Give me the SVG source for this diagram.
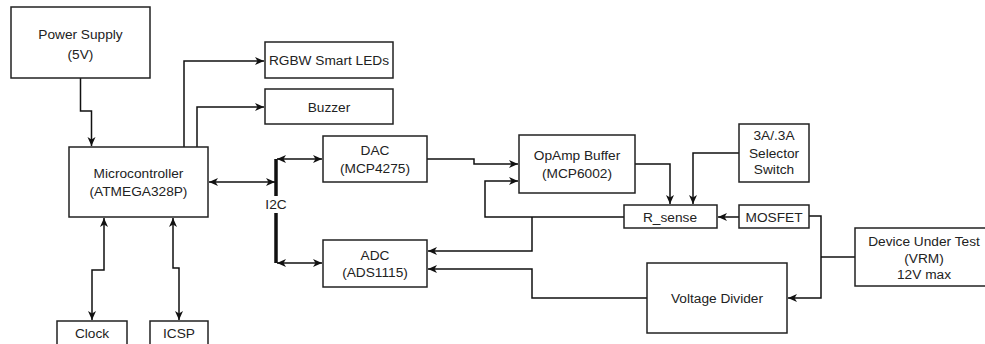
<svg xmlns="http://www.w3.org/2000/svg" width="985" height="344" viewBox="0 0 985 344">
<style>
.box{fill:#fff;stroke:#222;stroke-width:1.5}
.t{font-family:"Liberation Sans",Arial,sans-serif;font-size:13.7px;fill:#222;text-anchor:middle}
.c{fill:none;stroke:#111;stroke-width:1.5}
.e{marker-end:url(#ah)}
.b{marker-end:url(#ah);marker-start:url(#ah)}
</style>
<defs>
<marker id="ah" markerUnits="userSpaceOnUse" markerWidth="10" markerHeight="9" refX="9" refY="4.5" orient="auto-start-reverse">
<path d="M0,0.5 L9,4.5 L0,8.5 L2.5,4.5 z" fill="#111"/>
</marker>
</defs>
<rect width="985" height="344" fill="#fff"/>
<g id="connectors">
<path class="c e" d="M80.5,78 V111 H91.5 V146"/>
<path class="c e" d="M184,147 V61 H264"/>
<path class="c e" d="M197,147 V107 H264"/>
<path class="c b" d="M209,182 H275"/>
<path d="M276,159 V263" fill="none" stroke="#111" stroke-width="3.5"/>
<path class="c b" d="M277,159 H322"/>
<path class="c b" d="M277,263 H322"/>
<path class="c b" d="M104,218 V270 H92 V320"/>
<path class="c b" d="M173,218 V268 H179 V320"/>
<path class="c e" d="M427,159 H474 V164 H518"/>
<path class="c e" d="M624,217 H485 V181 H518"/>
<path class="c e" d="M532,217 V251 H428"/>
<path class="c e" d="M647,298 H532 V269 H428"/>
<path class="c e" d="M635,164 H670 V204"/>
<path class="c e" d="M739,153 H693 V204"/>
<path class="c e" d="M739,217 H718"/>
<path class="c e" d="M809,216 H821 V298 H788"/>
<path class="c" d="M855,257 H821"/>
<rect x="266" y="196" width="20" height="17" fill="#fff"/>
<text class="t" x="276" y="209">I2C</text>
</g>
<g id="power"><rect class="box" x="11" y="7" width="139" height="71"/><text class="t" x="80.5" y="39">Power Supply</text><text class="t" x="80.5" y="59">(5V)</text></g>
<g id="micro"><rect class="box" x="69" y="147" width="139" height="70"/><text class="t" x="138.5" y="178">Microcontroller</text><text class="t" x="138.5" y="196">(ATMEGA328P)</text></g>
<g id="rgbw"><rect class="box" x="265" y="42" width="128" height="36"/><text class="t" x="329" y="65">RGBW Smart LEDs</text></g>
<g id="buzzer"><rect class="box" x="265" y="89" width="128" height="35"/><text class="t" x="329" y="111.5">Buzzer</text></g>
<g id="dac"><rect class="box" x="323" y="136" width="104" height="46"/><text class="t" x="375" y="155">DAC</text><text class="t" x="375" y="173">(MCP4275)</text></g>
<g id="adc"><rect class="box" x="323" y="240" width="104" height="47"/><text class="t" x="375" y="260">ADC</text><text class="t" x="375" y="277">(ADS1115)</text></g>
<g id="opamp"><rect class="box" x="519" y="135" width="116" height="58"/><text class="t" x="577" y="160">OpAmp Buffer</text><text class="t" x="577" y="178">(MCP6002)</text></g>
<g id="rsense"><rect class="box" x="624" y="205" width="93" height="23"/><text class="t" x="670" y="221.5">R_sense</text></g>
<g id="switch"><rect class="box" x="739" y="124" width="70" height="58"/><text class="t" x="774" y="140">3A/.3A</text><text class="t" x="774" y="158">Selector</text><text class="t" x="774" y="174">Switch</text></g>
<g id="mosfet"><rect class="box" x="739" y="205" width="70" height="23"/><text class="t" x="774" y="221.5">MOSFET</text></g>
<g id="dut"><rect class="box" x="855" y="228" width="140" height="58"/><text class="t" x="924" y="246">Device Under Test</text><text class="t" x="924" y="263">(VRM)</text><text class="t" x="924" y="279">12V max</text></g>
<g id="vdiv"><rect class="box" x="647" y="263" width="140" height="70"/><text class="t" x="717" y="303">Voltage Divider</text></g>
<g id="clock"><rect class="box" x="57" y="321" width="70" height="30"/><text class="t" x="92" y="338">Clock</text></g>
<g id="icsp"><rect class="box" x="150" y="321" width="58" height="30"/><text class="t" x="179" y="338">ICSP</text></g>
</svg>
